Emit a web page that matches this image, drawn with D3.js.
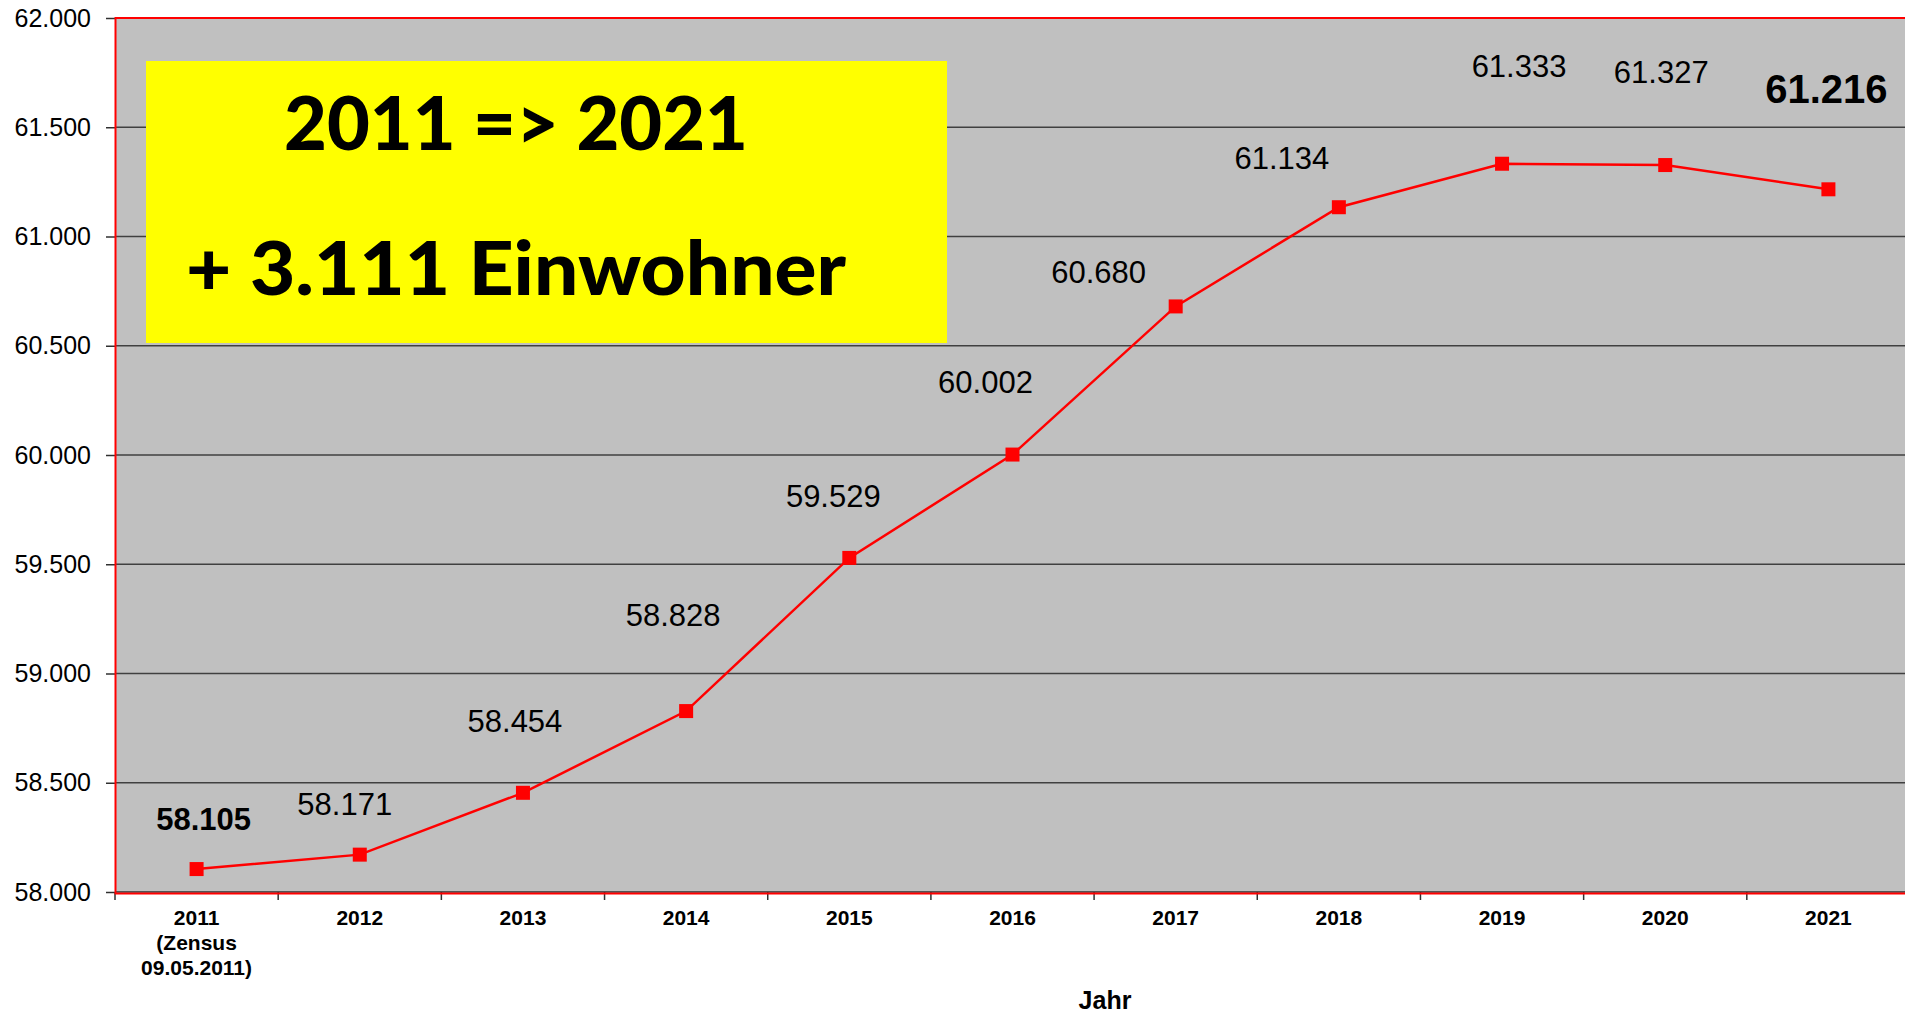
<!DOCTYPE html>
<html><head><meta charset="utf-8">
<script src="https://cdn.jsdelivr.net/npm/d3@7"></script>
<style>body{margin:0;background:#fff}svg{display:block}</style>
</head><body><svg id="c" width="1905" height="1014"></svg>
<script>
// ---- data ----
const years = ["2011","2012","2013","2014","2015","2016","2017","2018","2019","2020","2021"];
const population = [58105,58171,58454,58828,59529,60002,60680,61134,61333,61327,61216];
const yTicks = [58000,58500,59000,59500,60000,60500,61000,61500,62000];
const xLabelLines = [["2011","(Zensus","09.05.2011)"],["2012"],["2013"],["2014"],["2015"],["2016"],["2017"],["2018"],["2019"],["2020"],["2021"]];
const boxLines = ["2011 => 2021","+ 3.111 Einwohner"];
const axisTitle = "Jahr";

// ---- layout ----
const W = 1905, H = 1014;
const m = {left:115, top:18, bottom:892, right:1910};
const labelOffsets = [[7,-39],[-15,-40],[-8,-61],[-13,-85],[-16,-51],[-27,-62],[-77,-23],[-57,-38],[17,-87],[-4,-82],[-2,-86]];
const boldSize = {0:31, 10:40};

const de = d3.formatLocale({decimal:",", thousands:".", grouping:[3], currency:["","€"]});
const fmt = de.format(",");

const svg = d3.select("#c");
const x = d3.scaleBand().domain(years).range([m.left, m.right]).padding(0);
const y = d3.scaleLinear().domain([58000,62000]).range([m.bottom, m.top]);
const cx = d => x(d) + x.bandwidth()/2;

// plot background
svg.append("rect").attr("x", m.left).attr("y", m.top)
  .attr("width", W - m.left + 5).attr("height", m.bottom - m.top)
  .attr("fill", "#c0c0c0");

// gridlines
svg.append("g").selectAll("line").data(yTicks.filter(t => t > 58000 && t < 62000)).join("line")
  .attr("x1", m.left).attr("x2", W + 5)
  .attr("y1", d => y(d)).attr("y2", d => y(d))
  .attr("stroke", "#404040").attr("stroke-width", 1.5);

// y axis
const yAxis = d3.axisLeft(y).tickValues(yTicks).tickFormat(fmt).tickSize(9).tickPadding(15);
const gy = svg.append("g").attr("transform", `translate(${m.left},0)`).call(yAxis);
gy.select(".domain").attr("stroke", "#202020");
gy.selectAll(".tick line").attr("stroke", "#303030").attr("stroke-width", 1.5);
gy.selectAll(".tick text").attr("font-family", "'Liberation Sans', Arial, sans-serif")
  .attr("font-size", 25).attr("fill", "#000");

// x axis (ticks at band boundaries)
const bounds = years.map(d => x(d)).concat([x(years[years.length-1]) + x.bandwidth()]);
svg.append("g").selectAll("line").data(bounds).join("line")
  .attr("x1", d => d).attr("x2", d => d)
  .attr("y1", m.bottom).attr("y2", m.bottom + 8)
  .attr("stroke", "#303030").attr("stroke-width", 1.5);
svg.append("line").attr("x1", m.left).attr("x2", W + 5).attr("y1", m.bottom).attr("y2", m.bottom)
  .attr("stroke", "#303030").attr("stroke-width", 1.5);

const xl = svg.append("g").selectAll("text").data(years).join("text")
  .attr("x", d => cx(d)).attr("y", 925)
  .attr("text-anchor", "middle")
  .attr("font-family", "'Liberation Sans', Arial, sans-serif")
  .attr("font-size", 21).attr("font-weight", "bold").attr("fill", "#000");
xl.each(function(d, i) {
  const t = d3.select(this);
  xLabelLines[i].forEach((line, j) => {
    t.append("tspan").attr("x", cx(d)).attr("dy", j === 0 ? 0 : 25).text(line);
  });
});

// red border
svg.append("rect").attr("x", m.left + 0.5).attr("y", m.top)
  .attr("width", W - m.left + 5).attr("height", m.bottom - m.top + 1.5)
  .attr("fill", "none").attr("stroke", "#ff0000").attr("stroke-width", 2);

// axis title
svg.append("text").attr("x", 1105).attr("y", 1009).attr("text-anchor", "middle")
  .attr("font-family", "'Liberation Sans', Arial, sans-serif")
  .attr("font-size", 25).attr("font-weight", "bold").text(axisTitle);

// yellow box
svg.append("rect").attr("x", 146).attr("y", 61).attr("width", 801).attr("height", 282)
  .attr("fill", "#ffff00");
svg.append("text").attr("x", 284).attr("y", 150)
  .attr("font-family", "Lato, 'Open Sans', sans-serif").attr("font-weight", 900)
  .attr("font-size", 74).attr("textLength", 464).attr("lengthAdjust", "spacingAndGlyphs")
  .text(boxLines[0]);
svg.append("text").attr("x", 186).attr("y", 295)
  .attr("font-family", "Lato, 'Open Sans', sans-serif").attr("font-weight", 900)
  .attr("font-size", 74).attr("textLength", 660).attr("lengthAdjust", "spacingAndGlyphs")
  .text(boxLines[1]);

// line
const line = d3.line().x((d, i) => cx(years[i])).y(d => y(d));
svg.append("path").datum(population).attr("d", line)
  .attr("fill", "none").attr("stroke", "#ff0000").attr("stroke-width", 2.5);

// markers
const ms = 14;
svg.append("g").selectAll("rect").data(population).join("rect")
  .attr("x", (d, i) => cx(years[i]) - ms/2).attr("y", d => y(d) - ms/2)
  .attr("width", ms).attr("height", ms).attr("fill", "#ff0000");

// data labels
svg.append("g").selectAll("text").data(population).join("text")
  .attr("x", (d, i) => cx(years[i]) + labelOffsets[i][0])
  .attr("y", (d, i) => y(d) + labelOffsets[i][1])
  .attr("text-anchor", "middle")
  .attr("font-family", "'Liberation Sans', Arial, sans-serif")
  .attr("font-size", (d, i) => boldSize[i] || 31)
  .attr("font-weight", (d, i) => boldSize[i] ? "bold" : "normal")
  .attr("fill", "#000")
  .text(d => fmt(d));
</script></body></html>
